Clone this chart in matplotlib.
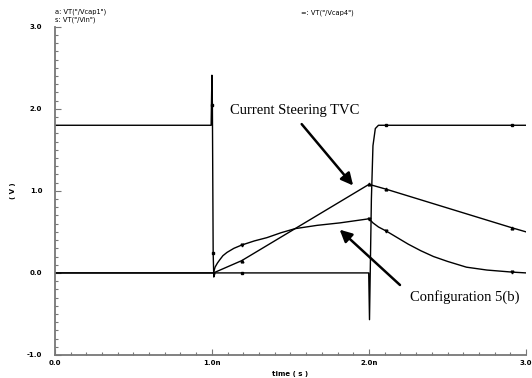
import numpy as np
import matplotlib
matplotlib.use('Agg')
import matplotlib.pyplot as plt
from matplotlib.ticker import MultipleLocator, FixedLocator

# time in ns, voltage in V
vin_t = [0.0, 0.995, 1.0, 1.003, 1.008, 1.012, 1.02, 1.19, 1.998, 2.003, 2.015, 2.025, 2.04, 2.06, 2.11, 2.91, 3.0]
vin_v = [1.8, 1.8, 2.41, 2.05, 0.24, -0.05, 0.0, 0.0, 0.0, -0.57, 0.9, 1.55, 1.76, 1.8, 1.8, 1.8, 1.8]
vin_marks = [3, 4, 7, 14, 15]

vcap1_t = [0.0, 1.01, 1.19, 2.0, 2.11, 2.91, 3.0]
vcap1_v = [0.0, 0.0, 0.15, 1.08, 1.02, 0.55, 0.50]
vcap1_marks = [2, 3, 4, 5]

vcap4_t = [0.0, 1.01, 1.02, 1.035, 1.05, 1.07, 1.096, 1.14, 1.19, 1.27, 1.35, 1.44, 1.53, 1.67,
           1.815, 2.0, 2.01, 2.025, 2.06, 2.11, 2.18, 2.25, 2.33, 2.41, 2.5, 2.62, 2.75, 2.91, 3.0]
vcap4_v = [0.0, 0.0, 0.07, 0.12, 0.16, 0.21, 0.25, 0.30, 0.34, 0.39, 0.43, 0.49, 0.54, 0.58,
           0.61, 0.66, 0.64, 0.61, 0.56, 0.51, 0.43, 0.35, 0.27, 0.20, 0.14, 0.07, 0.035, 0.01, 0.0]
vcap4_marks = [8, 15, 19, 27]

fig = plt.figure(figsize=(5.32, 3.78), dpi=100)
ax = fig.add_axes([0.103, 0.061, 0.886, 0.868])

ax.plot(vin_t, vin_v, color='black', lw=1.0, marker='s', ms=1.6, markevery=vin_marks)
ax.plot(vcap1_t, vcap1_v, color='black', lw=1.0, marker='^', ms=2.0, markevery=vcap1_marks)
ax.plot(vcap4_t, vcap4_v, color='black', lw=1.0, marker='v', ms=2.0, markevery=vcap4_marks)

ax.set_xlim(0, 3.0)
ax.set_ylim(-1.0, 3.0)

for s in ['top', 'right']:
    ax.spines[s].set_visible(False)
for s in ['left', 'bottom']:
    ax.spines[s].set_color('#777777')
    ax.spines[s].set_linewidth(1.3)

tickfont = dict(family='DejaVu Sans', weight='bold', size=5)
ax.xaxis.set_major_locator(FixedLocator([0, 1, 2, 3]))
ax.set_xticklabels(['0.0', '1.0n', '2.0n', '3.0'], **tickfont)
ax.yaxis.set_major_locator(FixedLocator([-1, 0, 1, 2, 3]))
ax.set_yticklabels(['-1.0', '0.0', '1.0', '2.0', '3.0'], **tickfont)
ax.xaxis.set_minor_locator(MultipleLocator(0.1))
ax.yaxis.set_minor_locator(MultipleLocator(0.1))
ax.tick_params(which='major', direction='in', length=4, width=0.8, color='#777777', pad=4)
ax.tick_params(which='minor', direction='in', length=2, width=0.8, color='#777777')
ax.tick_params(axis='y', which='major', pad=9)

ax.set_xlabel('time ( s )', fontdict=tickfont, labelpad=3)
ax.set_ylabel('( V )', fontdict=tickfont, labelpad=8)

legfont = dict(family='DejaVu Sans', size=4.8)
fig.text(0.103, 0.968, 'a: VT("/Vcap1")', va='center', ha='left', **legfont)
fig.text(0.103, 0.947, 's: VT("/Vin")', va='center', ha='left', **legfont)
fig.text(0.566, 0.965, '=: VT("/Vcap4")', va='center', ha='left', **legfont)

serif = dict(family='Liberation Serif', size=10.5)
ax.annotate('', xy=(1.91, 1.04), xytext=(1.56, 1.84),
            arrowprops=dict(arrowstyle='-|>', lw=1.8, color='black', mutation_scale=18))
ax.text(1.53, 1.98, 'Current Steering TVC', ha='center', va='center', **serif)
ax.annotate('', xy=(1.80, 0.55), xytext=(2.21, -0.17),
            arrowprops=dict(arrowstyle='-|>', lw=1.8, color='black', mutation_scale=18))
ax.text(2.26, -0.29, 'Configuration 5(b)', ha='left', va='center', **serif)

fig.savefig('out.png', dpi=100)
